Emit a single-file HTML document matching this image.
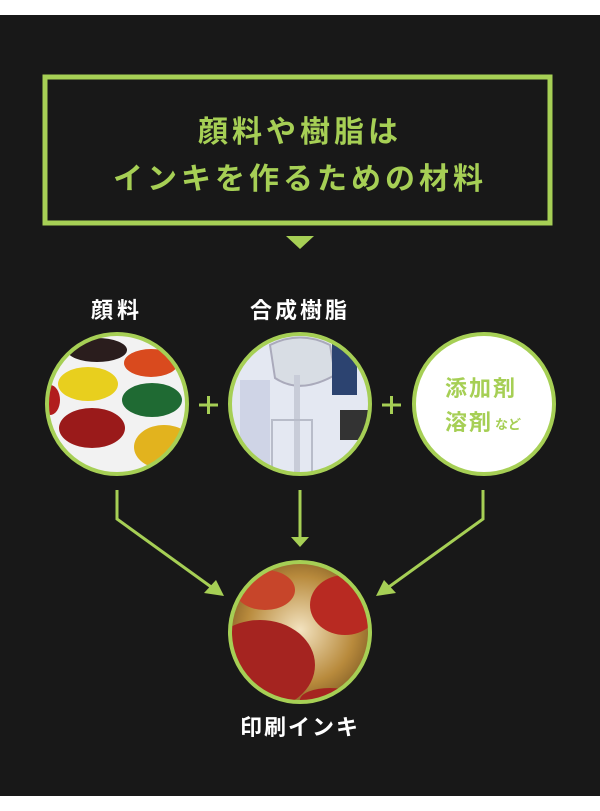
<!DOCTYPE html>
<html><head><meta charset="utf-8"><style>
html,body{margin:0;padding:0;background:#fff;}
svg{display:block;}
text{font-family:"Liberation Sans","Noto Sans CJK JP",sans-serif;font-weight:bold;}
</style></head><body>
<svg width="600" height="811" viewBox="0 0 600 811" xmlns="http://www.w3.org/2000/svg">
<defs>
<clipPath id="c1"><circle cx="117" cy="404" r="69"/></clipPath>
<clipPath id="c2"><circle cx="300" cy="404" r="69"/></clipPath>
<clipPath id="c4"><circle cx="300" cy="632" r="69"/></clipPath>
<radialGradient id="gold" cx="0.5" cy="0.5" r="0.6"><stop offset="0" stop-color="#f3e3c0"/><stop offset="0.6" stop-color="#b88a3c"/><stop offset="1" stop-color="#6b4a1c"/></radialGradient>
</defs>
<rect x="0" y="15" width="600" height="781" fill="#181818"/>
<rect x="45" y="77" width="505" height="146" fill="none" stroke="#a6cf55" stroke-width="5"/>
<text x="300" y="142" font-size="30" letter-spacing="4" fill="#a6cf55" text-anchor="middle">顔料や樹脂は</text>
<text x="300" y="189" font-size="30" letter-spacing="4" fill="#a6cf55" text-anchor="middle">インキを作るための材料</text>
<polygon points="286,236 314,236 300,249" fill="#a6cf55"/>
<text x="117" y="318" font-size="22" letter-spacing="4" fill="#fff" text-anchor="middle">顔料</text>
<text x="300" y="318" font-size="22" letter-spacing="3" fill="#fff" text-anchor="middle">合成樹脂</text>
<g clip-path="url(#c1)">
<rect x="40" y="330" width="160" height="150" fill="#f2f2f2"/>
<ellipse cx="97" cy="350" rx="30" ry="12" fill="#2a1d1d"/>
<ellipse cx="151" cy="363" rx="27" ry="14" fill="#d94a1e"/>
<ellipse cx="88" cy="384" rx="30" ry="17" fill="#e8cf1e"/>
<ellipse cx="152" cy="400" rx="30" ry="17" fill="#1f6a33"/>
<ellipse cx="92" cy="428" rx="33" ry="20" fill="#9a1a1a"/>
<ellipse cx="164" cy="447" rx="30" ry="22" fill="#e2b31e"/>
<ellipse cx="50" cy="400" rx="10" ry="15" fill="#b11d1d"/>
</g>
<circle cx="117" cy="404" r="70" fill="none" stroke="#a6cf55" stroke-width="4"/>
<g clip-path="url(#c2)">
<rect x="225" y="330" width="150" height="150" fill="#e4e8f2"/>
<rect x="240" y="380" width="30" height="100" fill="#cfd4e6"/>
<path d="M270 345 Q300 330 330 345 L335 375 Q300 395 275 378 Z" fill="#d8dde4" stroke="#aab" stroke-width="2"/>
<rect x="332" y="340" width="25" height="55" fill="#2c4370"/>
<rect x="340" y="410" width="35" height="30" fill="#333"/>
<rect x="294" y="375" width="6" height="100" fill="#c8ccd8"/>
<rect x="272" y="420" width="40" height="60" fill="none" stroke="#b8bcc9" stroke-width="2"/>
</g>
<circle cx="300" cy="404" r="70" fill="none" stroke="#a6cf55" stroke-width="4"/>
<circle cx="484" cy="404" r="70" fill="#fff" stroke="#a6cf55" stroke-width="4"/>
<text x="445" y="396" font-size="22" letter-spacing="2" fill="#a6cf55">添加剤</text>
<text x="445" y="430" font-size="22" letter-spacing="2" fill="#a6cf55">溶剤</text>
<text x="495" y="429" font-size="13" fill="#a6cf55">など</text>
<g stroke="#a6cf55" stroke-width="3">
<line x1="199" y1="405" x2="218" y2="405"/><line x1="208.5" y1="396" x2="208.5" y2="414"/>
<line x1="382" y1="405" x2="401" y2="405"/><line x1="391.5" y1="396" x2="391.5" y2="414"/>
</g>
<g stroke="#a6cf55" stroke-width="3" fill="none">
<polyline points="117,490 117,519 214,589"/>
<line x1="300" y1="490" x2="300" y2="538"/>
<polyline points="483,490 483,519 386,589"/>
</g>
<g fill="#a6cf55">
<polygon points="224,596 204,593 216,580"/>
<polygon points="291,537 309,537 300,547"/>
<polygon points="376,596 396,593 384,580"/>
</g>
<g clip-path="url(#c4)">
<rect x="225" y="555" width="150" height="150" fill="url(#gold)"/>
<ellipse cx="260" cy="665" rx="55" ry="45" fill="#a52420"/>
<ellipse cx="345" cy="605" rx="35" ry="30" fill="#b82a22"/>
<ellipse cx="265" cy="590" rx="30" ry="20" fill="#c7452a"/>
<ellipse cx="330" cy="700" rx="30" ry="12" fill="#a52420"/>
</g>
<circle cx="300" cy="632" r="70" fill="none" stroke="#a6cf55" stroke-width="4"/>
<text x="300" y="735" font-size="22" letter-spacing="2" fill="#fff" text-anchor="middle">印刷インキ</text>
</svg>
</body></html>
